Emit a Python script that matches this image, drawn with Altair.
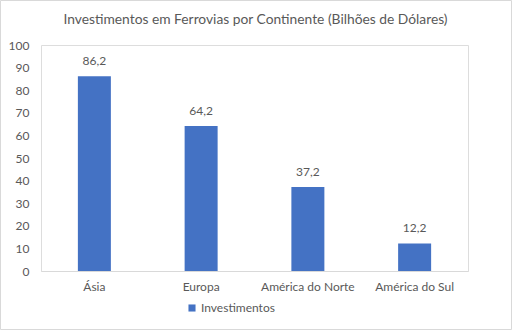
import altair as alt
import pandas as pd

title_text = "Investimentos em Ferrovias por Continente (Bilhões de Dólares)"
categories = ["Ásia", "Europa", "América do Norte", "América do Sul"]
values = [86.2, 64.2, 37.2, 12.2]
series_name = "Investimentos"
y_ticks = [0, 10, 20, 30, 40, 50, 60, 70, 80, 90, 100]

df = pd.DataFrame({"Continente": categories, "Valor": values, "Serie": [series_name] * len(categories)})

FONT = "Lato"
GREY = "#595959"
BLUE = "#4472C4"

x_enc = alt.X("Continente:N", sort=categories, title=None,
              axis=alt.Axis(labelAngle=0, labelFontSize=12, labelColor=GREY, labelFont=FONT,
                            ticks=False, domainColor="#d9d9d9", labelPadding=10))
y_enc = alt.Y("Valor:Q", title=None, scale=alt.Scale(domain=[0, 100], nice=False),
              axis=alt.Axis(values=y_ticks, grid=False, domain=False, ticks=False, labelOverlap=False,
                            labelFontSize=12, labelColor=GREY, labelFont=FONT, labelPadding=12))

base = alt.Chart(df).encode(x=x_enc, y=y_enc)

bars = base.mark_bar(color=BLUE, size=33).encode(
    fill=alt.Fill("Serie:N", scale=alt.Scale(range=[BLUE]),
                  legend=alt.Legend(title=None, orient="none", legendX=145, legendY=257,
                                    symbolType="square", symbolSize=50, labelFontSize=12,
                                    labelOffset=3, labelColor=GREY, labelFont=FONT,
                                    symbolStrokeWidth=0)),
)

labels = base.transform_calculate(
    lab="replace(format(datum.Valor, '.1f'), '.', ',')"
).mark_text(baseline="bottom", dy=-8, fontSize=12, color=GREY, font=FONT).encode(
    text="lab:N",
)

deco = alt.Chart(pd.DataFrame({"t": [title_text]}))

border = deco.mark_rect(fill=None, stroke="#d9d9d9", strokeWidth=1).encode(
    x=alt.value(-40.5), x2=alt.value(470.5), y=alt.value(-44.5), y2=alt.value(284.5)
)

title = deco.mark_text(fontSize=13.8, font=FONT, color=GREY, align="center", baseline="middle").encode(
    x=alt.value(214.5), y=alt.value(-25), text="t:N"
)

chart = alt.layer(bars, labels, border, title).properties(
    width=427, height=226,
    autosize=alt.AutoSizeParams(type="none"),
    padding={"left": 41, "top": 45, "right": 44, "bottom": 59},
).configure_view(stroke=None).configure(background="white")

chart.save("out.html", embed_options={"renderer": "svg", "actions": False})
